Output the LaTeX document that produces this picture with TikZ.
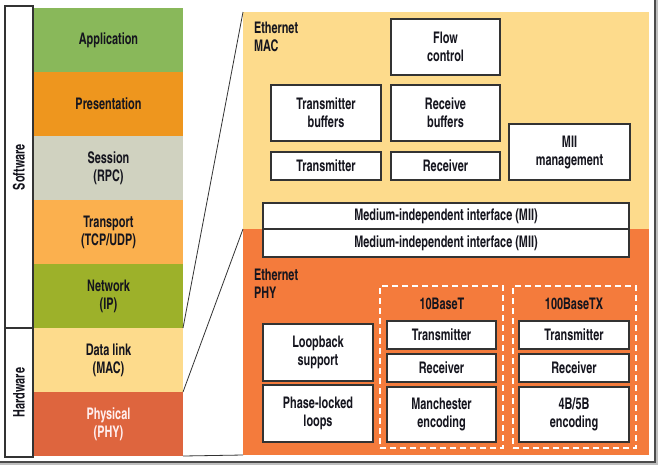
\documentclass[tikz,border=0pt]{standalone}
\usepackage{fontspec}
\setmainfont{texgyreheroscn-bold.otf}[FakeStretch=0.83]
\definecolor{appgreen}{HTML}{89B85A}
\definecolor{presorange}{HTML}{EE961E}
\definecolor{sessgray}{HTML}{D0D2C0}
\definecolor{transorange}{HTML}{FBB04E}
\definecolor{netolive}{HTML}{9DB12A}
\definecolor{dlyellow}{HTML}{FDDB8C}
\definecolor{phyred}{HTML}{DE653E}
\definecolor{phypanel}{HTML}{F47B3C}
\definecolor{txt}{HTML}{15151E}
\definecolor{boxline}{HTML}{333333}
\definecolor{phytext}{HTML}{FFEFEF}
\begin{document}
\begin{tikzpicture}[x=1pt,y=-1pt,
  every node/.style={font=\fontsize{16}{18}\selectfont, text=txt, inner sep=0pt, outer sep=0pt},
  side/.style={draw=boxline, fill=white, line width=1.3pt, minimum width=28pt},
  layer/.style={fill=#1, minimum width=149pt, minimum height=64pt, align=center},
  panel/.style={fill=#1, minimum width=406pt},
  wbox/.style={draw=boxline, fill=white, line width=1.2pt, align=center},
  dbox/.style={draw=white, dash pattern=on 6pt off 4pt, line width=1.5pt, minimum width=123pt, minimum height=162pt},
  zoomline/.style={draw=boxline, line width=0.8pt},
  hd/.style={align=left, anchor=north west}
]
\useasboundingbox (0,0) rectangle (658,467);
\fill[white] (0,0) rectangle (658,467);
% drop shadow frame
\draw[black!25, line width=1.5pt] (0,464) -- (657,464) -- (657,0);
\draw[black!70, line width=1.2pt] (0,462) -- (655,462) -- (655,0);

% side labels
\node[side, minimum height=322pt] (sw) at (19,167) {};
\node[side, minimum height=129pt] (hw) at (19,392.5) {};
\node[rotate=90] at (sw.center) {Software};
\node[rotate=90] at (hw.center) {Hardware};

% layers
\node[layer=appgreen] (app) at (108.5,40) {Application};
\node[layer=presorange] (pres) at (108.5,104) {Presentation};
\node[layer=sessgray] (sess) at (108.5,168) {Session\\(RPC)};
\node[layer=transorange] (trans) at (108.5,232) {Transport\\(TCP/UDP)};
\node[layer=netolive] (net) at (108.5,296) {Network\\(IP)};
\node[layer=dlyellow] (dl) at (108.5,360) {Data link\\(MAC)};
\node[layer=phyred, text=phytext] (phy) at (108.5,424) {Physical\\(PHY)};

% panels
\node[panel=dlyellow, minimum height=217pt] (macp) at (446,120.5) {};
\node[panel=phypanel, minimum height=226pt] (phyp) at (446,342) {};

% zoom lines
\draw[zoomline] (dl.north east) -- (macp.north west);
\draw[zoomline] (dl.south east) -- (phyp.north west);
\draw[zoomline] (phy.south east) -- (phyp.south west);

% MAC content
\node[hd] (machd) at (254,22) {Ethernet\\MAC};
\node[wbox, minimum width=109pt, minimum height=56pt] (flow) at (445.5,47) {Flow\\control};
\node[wbox, minimum width=110pt, minimum height=56pt] (txbuf) at (326,113) {Transmitter\\buffers};
\node[wbox, minimum width=109pt, minimum height=56pt] (rxbuf) at (445.5,113) {Receive\\buffers};
\node[wbox, minimum width=110pt, minimum height=28pt] (tx) at (326,166) {Transmitter};
\node[wbox, minimum width=109pt, minimum height=28pt] (rx) at (445.5,166) {Receiver};
\node[wbox, minimum width=121pt, minimum height=56pt] (miim) at (569.5,152) {MII\\management};
\node[wbox, minimum width=366pt, minimum height=26pt] (mii1) at (446,216) {Medium-independent interface (MII)};
\node[wbox, minimum width=366pt, minimum height=28pt] (mii2) at (446,243) {Medium-independent interface (MII)};

% PHY content
\node[hd] (phyhd) at (254,269) {Ethernet\\PHY};
\node[wbox, minimum width=110pt, minimum height=57pt] (loop) at (318,352.5) {Loopback\\support};
\node[wbox, minimum width=110pt, minimum height=57pt] (pll) at (318,413.5) {Phase-locked\\loops};
\node[dbox] (d10) at (441.5,367) {};
\node[dbox] (d100) at (574.5,367) {};
\node (l10) at (442,304) {10BaseT};
\node (l100) at (574,304) {100BaseTX};
\node[wbox, minimum width=109pt, minimum height=28pt] (tx10) at (441.5,335) {Transmitter};
\node[wbox, minimum width=109pt, minimum height=28pt] (rx10) at (441.5,368) {Receiver};
\node[wbox, minimum width=109pt, minimum height=55pt] (man) at (441.5,414.5) {Manchester\\encoding};
\node[wbox, minimum width=110pt, minimum height=28pt] (tx100) at (574,335) {Transmitter};
\node[wbox, minimum width=110pt, minimum height=28pt] (rx100) at (574,368) {Receiver};
\node[wbox, minimum width=110pt, minimum height=55pt] (enc) at (574,414.5) {4B/5B\\encoding};
\end{tikzpicture}
\end{document}
